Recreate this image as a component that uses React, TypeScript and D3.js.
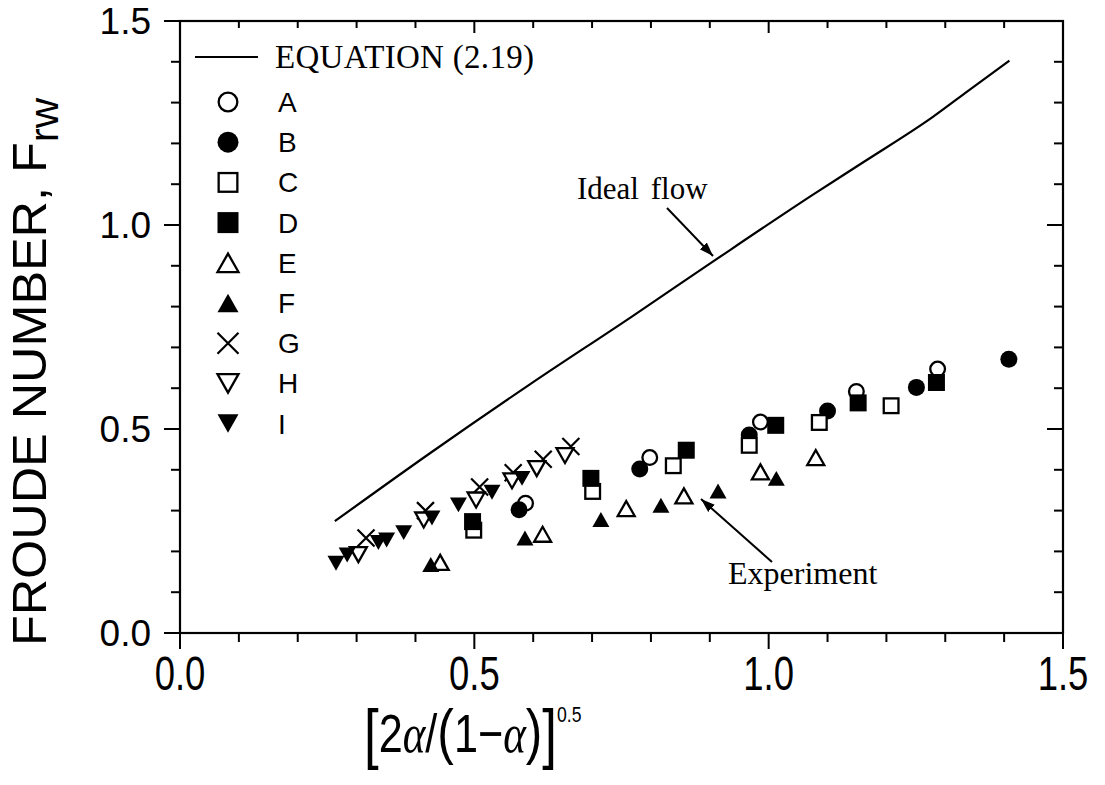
import * as d3 from "d3";

const W = 1105;
const H = 785;

// series: [x, Frw]
const seriesA = [[0.587, 0.318], [0.798, 0.43], [0.986, 0.517], [1.149, 0.592], [1.287, 0.647]];
const seriesB = [[0.576, 0.302], [0.781, 0.402], [0.967, 0.485], [1.1, 0.544], [1.251, 0.602], [1.408, 0.671]];
const seriesC = [[0.499, 0.252], [0.701, 0.347], [0.838, 0.41], [0.967, 0.46], [1.086, 0.516], [1.208, 0.557]];
const seriesD = [[0.497, 0.273], [0.698, 0.379], [0.86, 0.448], [1.012, 0.509], [1.152, 0.564], [1.285, 0.614]];
const seriesE = [[0.442, 0.173], [0.616, 0.242], [0.758, 0.305], [0.856, 0.336], [0.986, 0.395], [1.08, 0.43]];
const seriesF = [[0.426, 0.168], [0.586, 0.233], [0.715, 0.278], [0.817, 0.313], [0.914, 0.348], [1.013, 0.379]];
const seriesG = [[0.316, 0.233], [0.417, 0.3], [0.509, 0.358], [0.566, 0.393], [0.617, 0.426], [0.664, 0.457]];
const seriesH = [[0.303, 0.192], [0.414, 0.277], [0.503, 0.326], [0.564, 0.373], [0.606, 0.403], [0.654, 0.435]];
const seriesI = [[0.265, 0.171], [0.284, 0.191], [0.337, 0.222], [0.351, 0.228], [0.38, 0.246], [0.428, 0.282], [0.473, 0.314], [0.53, 0.345], [0.581, 0.379]];

// equation (2.19), ideal flow
const idealLine = [[0.263, 0.274], [0.424, 0.44], [0.595, 0.61], [0.767, 0.775], [0.907, 0.912], [1.076, 1.075], [1.162, 1.155], [1.279, 1.265], [1.34, 1.33], [1.409, 1.403]];

const legendLabels = ["A", "B", "C", "D", "E", "F", "G", "H", "I"];
const markerKinds = ["circleOpen", "circleFilled", "squareOpen", "squareFilled", "triUpOpen", "triUpFilled", "cross", "triDownOpen", "triDownFilled"];
const allSeries = [seriesA, seriesB, seriesC, seriesD, seriesE, seriesF, seriesG, seriesH, seriesI];

const majorTicks = [0, 0.5, 1.0, 1.5];
const minorTicks = d3.range(0, 16).map((i) => i / 10);

const plot = { left: 180, right: 1063, top: 21, bottom: 633 };

const x = d3.scaleLinear().domain([0, 1.5]).range([plot.left, plot.right]);
const y = d3.scaleLinear().domain([0, 1.5]).range([plot.bottom, plot.top]);

const Marker = ({ kind, cx, cy, s }) => {
  const sw = 2.3;
  const r = s / 2;
  switch (kind) {
    case "circleOpen":
      return <circle cx={cx} cy={cy} r={r - sw / 2} fill="#fff" stroke="#000" strokeWidth={sw} />;
    case "circleFilled":
      return <circle cx={cx} cy={cy} r={r} fill="#000" />;
    case "squareOpen":
      return <rect x={cx - r + sw / 2} y={cy - r + sw / 2} width={s - sw} height={s - sw} fill="#fff" stroke="#000" strokeWidth={sw} />;
    case "squareFilled":
      return <rect x={cx - r} y={cy - r} width={s} height={s} fill="#000" />;
    case "triUpOpen":
    case "triUpFilled": {
      const h = s * 0.88;
      const pts = `${cx - r},${cy + h / 2} ${cx + r},${cy + h / 2} ${cx},${cy - h / 2}`;
      return kind === "triUpOpen"
        ? <polygon points={pts} fill="#fff" stroke="#000" strokeWidth={sw} strokeLinejoin="miter" />
        : <polygon points={pts} fill="#000" />;
    }
    case "triDownOpen":
    case "triDownFilled": {
      const h = s * 0.88;
      const pts = `${cx - r},${cy - h / 2} ${cx + r},${cy - h / 2} ${cx},${cy + h / 2}`;
      return kind === "triDownOpen"
        ? <polygon points={pts} fill="#fff" stroke="#000" strokeWidth={sw} strokeLinejoin="miter" />
        : <polygon points={pts} fill="#000" />;
    }
    case "cross":
      return (
        <path
          d={`M${cx - r},${cy - r}L${cx + r},${cy + r}M${cx - r},${cy + r}L${cx + r},${cy - r}`}
          stroke="#000"
          strokeWidth={2.2}
          fill="none"
        />
      );
    default:
      return null;
  }
};

const App = () => {
  const line = d3.line().curve(d3.curveMonotoneX).x((d) => x(d[0])).y((d) => y(d[1]));
  const fmt = d3.format(".1f");
  const sans = "'Liberation Sans', Arial, sans-serif";
  const serif = "'Liberation Serif', 'Times New Roman', serif";

  const legendX = 228;
  const legendY0 = 102;
  const legendStep = 40.2;

  return (
    <svg width={W} height={H} style={{ position: "absolute", left: 0, top: 0, background: "#fff" }}>
      <defs>
        <marker id="arrow" viewBox="0 0 10 10" refX="10" refY="5" markerWidth="14" markerHeight="14" markerUnits="userSpaceOnUse" orient="auto">
          <path d="M0,1.5L10,5L0,8.5z" fill="#000" />
        </marker>
      </defs>

      {/* frame */}
      <rect
        x={plot.left}
        y={plot.top}
        width={plot.right - plot.left}
        height={plot.bottom - plot.top}
        fill="none"
        stroke="#000"
        strokeWidth={2.2}
      />

      {/* ticks: left and right point left, top and bottom point down */}
      {minorTicks.map((t) => {
        const major = majorTicks.some((m) => Math.abs(m - t) < 1e-6);
        const len = major ? 16 : 9;
        return (
          <g key={`t${t}`} stroke="#000" strokeWidth={2}>
            <line x1={plot.left} x2={plot.left - len} y1={y(t)} y2={y(t)} />
            <line x1={plot.right} x2={plot.right - len} y1={y(t)} y2={y(t)} />
            <line x1={x(t)} x2={x(t)} y1={plot.top} y2={plot.top + (major ? 12 : 7)} />
            <line x1={x(t)} x2={x(t)} y1={plot.bottom} y2={plot.bottom + len} />
          </g>
        );
      })}

      {/* y tick labels */}
      {majorTicks.map((t) => (
        <text
          key={`yl${t}`}
          x={151}
          y={y(t)}
          dy="0.36em"
          textAnchor="end"
          fontFamily={sans}
          fontSize={37}
        >
          {fmt(t)}
        </text>
      ))}

      {/* x tick labels */}
      {majorTicks.map((t) => (
        <text
          key={`xl${t}`}
          transform={`translate(${x(t)},${690}) scale(0.76,1)`}
          textAnchor="middle"
          fontFamily={sans}
          fontSize={48}
        >
          {fmt(t)}
        </text>
      ))}

      {/* y axis title */}
      <text
        transform={`translate(46,${372}) rotate(-90) scale(1.05,1)`}
        textAnchor="middle"
        fontFamily={sans}
        fontSize={48}
      >
        FROUDE NUMBER, F
        <tspan fontSize={40} dy={12}>rw</tspan>
      </text>

      {/* x axis title */}
      <g fontFamily={sans}>
        <text transform={`translate(364,752) scale(0.8,1)`} fontSize={54}>
          <tspan fontSize={66} dy={4}>[</tspan>
          <tspan dy={-4}>2</tspan>
          <tspan fontFamily={serif} fontStyle="italic">α</tspan>
          <tspan>/</tspan>
          <tspan fontSize={62}>(</tspan>
          <tspan>1−</tspan>
          <tspan fontFamily={serif} fontStyle="italic">α</tspan>
          <tspan fontSize={62}>)</tspan>
          <tspan fontSize={66} dy={4}>]</tspan>
        </text>
        <text transform={`translate(557,722) scale(0.8,1)`} fontSize={22}>0.5</text>
      </g>

      {/* ideal flow curve */}
      <path d={line(idealLine)} fill="none" stroke="#000" strokeWidth={2.2} />

      {/* experimental points */}
      {allSeries.map((ser, si) => (
        <g key={`s${si}`}>
          {ser.map((d, i) => (
            <Marker key={i} kind={markerKinds[si]} cx={x(d[0])} cy={y(d[1])} s={17} />
          ))}
        </g>
      ))}

      {/* legend */}
      <line x1={195} x2={258} y1={57} y2={57} stroke="#000" strokeWidth={2} />
      <text x={275} y={68} fontFamily={serif} fontSize={33} letterSpacing={0.3}>
        EQUATION (2.19)
      </text>
      {legendLabels.map((lab, i) => (
        <g key={lab}>
          <Marker kind={markerKinds[i]} cx={legendX} cy={legendY0 + i * legendStep} s={21} />
          <text x={278} y={legendY0 + i * legendStep + 10} fontFamily={sans} fontSize={28}>
            {lab}
          </text>
        </g>
      ))}

      {/* annotations */}
      <text x={577} y={199} fontFamily={serif} fontSize={31} wordSpacing={4}>
        Ideal flow
      </text>
      <line x1={667} y1={208} x2={713} y2={256} stroke="#000" strokeWidth={2} markerEnd="url(#arrow)" />
      <text x={728} y={584} fontFamily={serif} fontSize={32}>
        Experiment
      </text>
      <line x1={772} y1={562} x2={701} y2={499} stroke="#000" strokeWidth={2} markerEnd="url(#arrow)" />
    </svg>
  );
};

export default App;
